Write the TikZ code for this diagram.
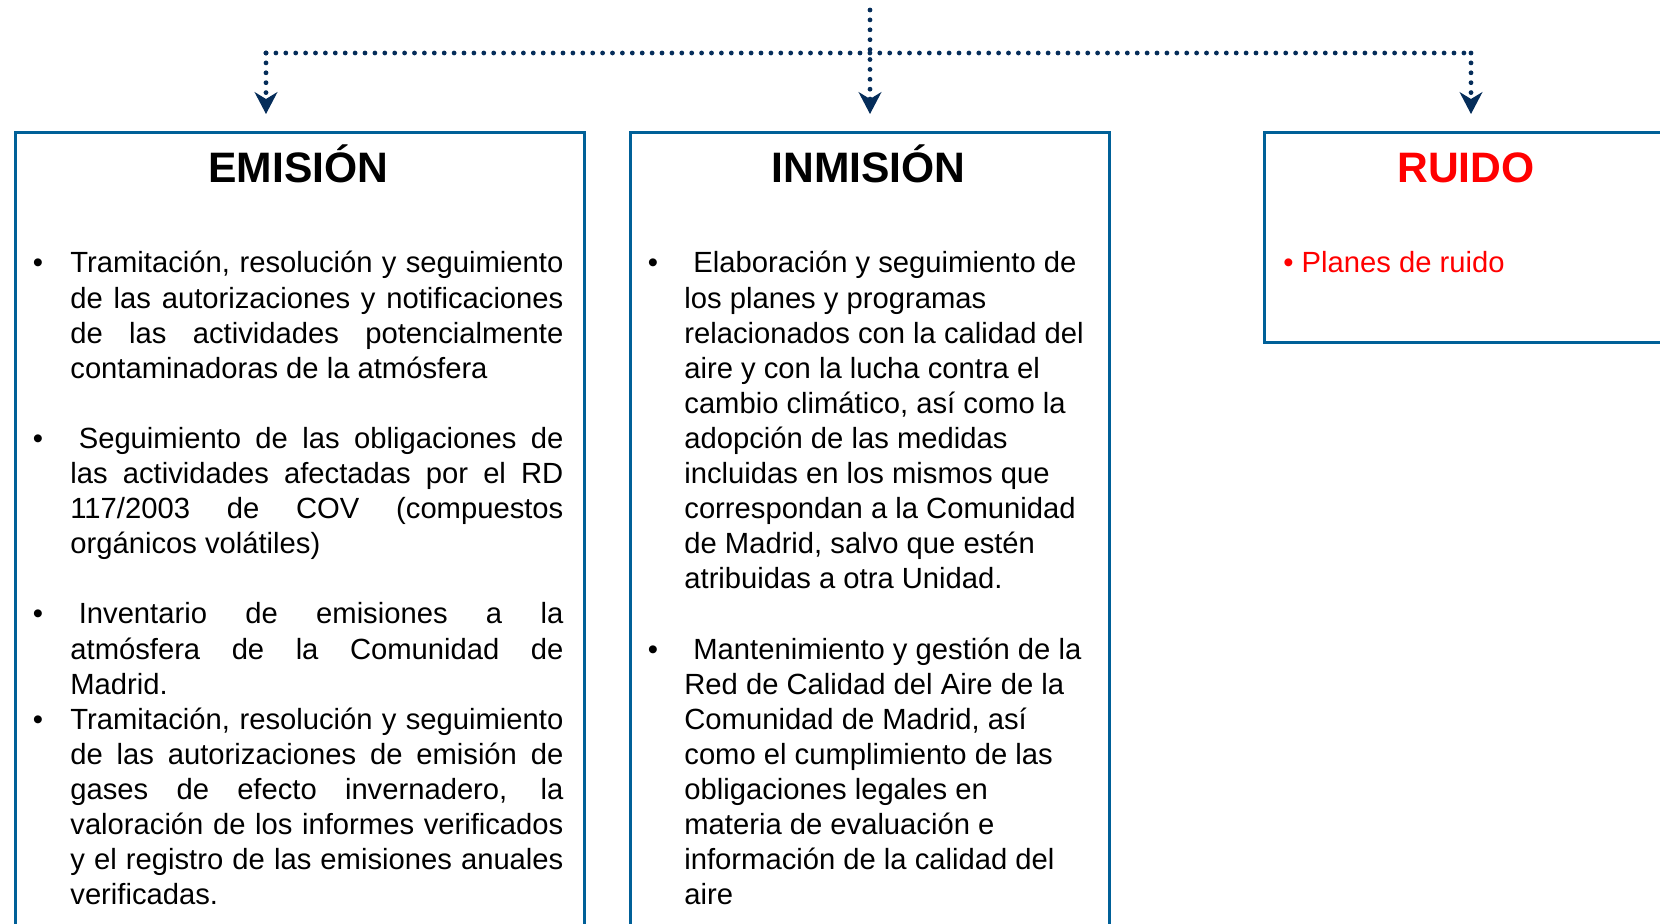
\documentclass[tikz,border=0pt]{standalone}
\usepackage{fontspec}
\setmainfont{Liberation Sans}
\usetikzlibrary{arrows.meta}
\definecolor{boxblue}{RGB}{0,96,152}
\definecolor{navy}{RGB}{5,45,90}
\definecolor{ruidored}{RGB}{255,0,0}
\newcommand\bodyfont{\fontsize{14.6pt}{17.55pt}\selectfont}
\newcommand\titlefont{\fontsize{21.3pt}{25pt}\selectfont\bfseries}
\newcommand\jline[1]{\makebox[\linewidth][s]{#1}}
\begin{document}
\begin{tikzpicture}[x=0.5pt,y=-0.5pt,
 panel/.style={draw=boxblue, line width=1.7pt, anchor=north west, inner sep=0pt},
 title/.style={anchor=base, inner sep=0pt, font=\titlefont},
 item/.style={anchor=base west, inner sep=0pt, font=\bodyfont},
 bul/.style={anchor=base, inner sep=0pt, font=\bodyfont},
 trunk/.style={draw=navy, line width=2.4pt, line cap=round, dash pattern=on 0pt off 4.95pt},
 conn/.style={trunk, -{Stealth[length=11pt,width=11.5pt,inset=3.5pt,line width=0.6pt]}}]
\useasboundingbox (0,0) rectangle (1660,924);
\fill[white] (0,0) rectangle (1660,924);
\clip (0,0) rectangle (1660,924);

% panels
\node[panel, minimum width=284.5pt, minimum height=404.5pt] (em) at (14,131) {};
\node[panel, minimum width=239.5pt, minimum height=404.5pt] (in) at (629,131) {};
\node[panel, minimum width=203.5pt, minimum height=105pt] (ru) at (1263,131) {};

% titles
\node[title] (tem) at (298.5,182.7) {EMISIÓN};
\node[title] (tin) at (868.5,182.7) {INMISIÓN};
\node[title, text=ruidored] (tru) at (1466,182.7) {RUIDO};

% connectors
\coordinate (src) at (870,10);
\coordinate (hub) at (870,53);
\coordinate (a1) at (266,114);
\coordinate (a2) at (870,114);
\coordinate (a3) at (1471,114);
\draw[trunk] (a1 |- hub) -- (a3 |- hub);
\draw[conn] (src) -- (a2);
\draw[conn] (a1 |- hub) -- (a1);
\draw[conn] (a3 |- hub) -- (a3);

% EMISION items
\node[bul] (eb1) at (38,273) {•};
\node[item] (e1) at (70,273) {\parbox[t]{246.5pt}{%
\jline{Tramitación, resolución y seguimiento}\\
\jline{de las autorizaciones y notificaciones}\\
\jline{de las actividades potencialmente}\\
contaminadoras de la atmósfera}};

\node[bul] (eb2) at (38,448.5) {•};
\node[item] (e2) at (70,448.5) {\parbox[t]{246.5pt}{%
\jline{\hspace*{4.2pt}Seguimiento de las obligaciones de}\\
\jline{las actividades afectadas por el RD}\\
\jline{117/2003 de COV (compuestos}\\
orgánicos volátiles)}};

\node[bul] (eb3) at (38,624) {•};
\node[item] (e3) at (70,624) {\parbox[t]{246.5pt}{%
\jline{\hspace*{4.2pt}Inventario de emisiones a la}\\
\jline{atmósfera de la Comunidad de}\\
Madrid.}};

\node[bul] (eb4) at (38,729.3) {•};
\node[item] (e4) at (70,729.3) {\parbox[t]{246.5pt}{%
\jline{Tramitación, resolución y seguimiento}\\
\jline{de las autorizaciones de emisión de}\\
\jline{gases de efecto invernadero, la}\\
\jline{valoración de los informes verificados}\\
\jline{y el registro de las emisiones anuales}\\
verificadas.}};

% INMISION items
\node[bul] (ib1) at (653,273) {•};
\node[item] (i1) at (684,273) {\parbox[t]{215pt}{%
\hspace*{4.5pt}Elaboración y seguimiento de\\
los planes y programas\\
relacionados con la calidad del\\
aire y con la lucha contra el\\
cambio climático, así como la\\
adopción de las medidas\\
incluidas en los mismos que\\
correspondan a la Comunidad\\
de Madrid, salvo que estén\\
atribuidas a otra Unidad.}};

\node[bul] (ib2) at (653,659.1) {•};
\node[item] (i2) at (684,659.1) {\parbox[t]{215pt}{%
\hspace*{4.5pt}Mantenimiento y gestión de la\\
Red de Calidad del Aire de la\\
Comunidad de Madrid, así\\
como el cumplimiento de las\\
obligaciones legales en\\
materia de evaluación e\\
información de la calidad del\\
aire}};

% RUIDO item
\node[item, text=ruidored] (r1) at (1283,273) {• Planes de ruido};
\end{tikzpicture}
\end{document}
